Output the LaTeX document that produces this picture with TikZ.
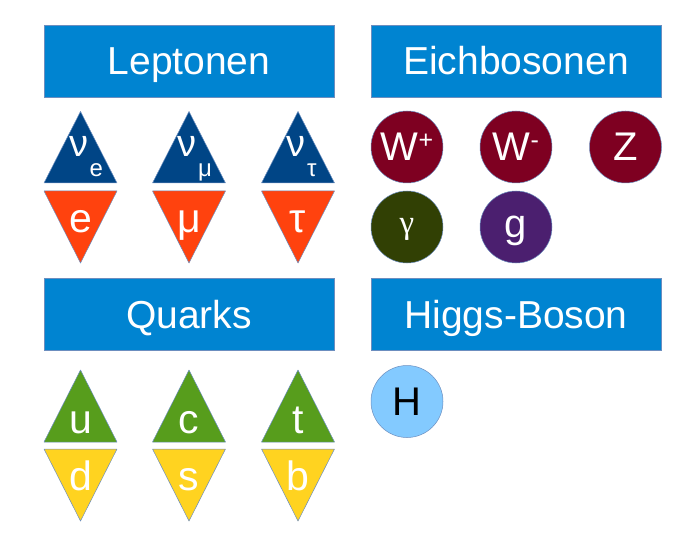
\documentclass[tikz,border=0pt]{standalone}
\usepackage{fontspec}
\setmainfont{Liberation Sans}
\newfontfamily\grserif{Liberation Serif}
\newcommand{\myfs}[1]{\fontsize{#1}{#1}\selectfont}
\definecolor{hdr}{HTML}{0084D1}
\definecolor{leptop}{HTML}{004586}
\definecolor{lepbot}{HTML}{FF420E}
\definecolor{qtop}{HTML}{579D1C}
\definecolor{qbot}{HTML}{FFD320}
\definecolor{wz}{HTML}{7E0021}
\definecolor{phot}{HTML}{314004}
\definecolor{glu}{HTML}{4B1F6F}
\definecolor{higgsc}{HTML}{83CAFF}
\definecolor{edgec}{HTML}{6C8EBF}
\tikzset{
  header/.style={rectangle, fill=hdr, draw=edgec, line width=0.5pt, minimum width=290pt, minimum height=72pt, inner sep=0pt, text=white, font=\myfs{39}, text height=28pt, text depth=0pt},
  boson/.style={circle, fill=#1, draw=edgec, line width=0.5pt, minimum size=72pt, inner sep=0pt, text=white, font=\myfs{40}, text height=28pt, text depth=0pt},
  tri/.style={fill=#1, draw=edgec, line width=0.5pt, line join=round},
  lbl/.style={text=white, inner sep=0pt, anchor=base, font=\myfs{41}},
  nulbl/.style={text=white, inner sep=0pt, anchor=base, font=\myfs{38}},
  sublbl/.style={text=white, inner sep=0pt, anchor=base west, font=\myfs{24}}
}
\begin{document}
\begin{tikzpicture}[x=1pt,y=-1pt]
\useasboundingbox (0,0) rectangle (700,553);
% headers
\node[header] (hlep) at (189,61) {Leptonen};
\node[header] (heich) at (516,61) {Eichbosonen};
\node[header] (hquark) at (189,314) {Quarks};
\node[header] (hhiggs) at (516,314) {Higgs-Boson};
% leptons
\foreach \cx/\nm/\sub/\low in {80.5/e/e/e, 189/mu/μ/μ, 298/tau/τ/τ}{
  \filldraw[tri=leptop] (\cx,111.5) -- (\cx+36.5,183) -- (\cx-36.5,183) -- cycle;
  \filldraw[tri=lepbot] (\cx-36.5,191) -- (\cx+36.5,191) -- (\cx,263) -- cycle;
  \node[nulbl] (nu\nm) at (\cx-2,157) {ν};
  \node[sublbl] (nus\nm) at (\cx+9,177) {\sub};
  \node[lbl] (l\nm) at (\cx,232) {\low};
}
% quarks
\foreach \cx/\up/\dn in {80.5/u/d, 189/c/s, 298/t/b}{
  \filldraw[tri=qtop] (\cx,370) -- (\cx+36.5,442) -- (\cx-36.5,442) -- cycle;
  \filldraw[tri=qbot] (\cx-36.5,449) -- (\cx+36.5,449) -- (\cx,521) -- cycle;
  \node[lbl] (q\up) at (\cx,433) {\up};
  \node[lbl] (q\dn) at (\cx,490) {\dn};
}
% gauge bosons
\node[boson=wz] (wplus) at (407,147) {W\raisebox{12pt}{\myfs{25}+}};
\node[boson=wz] (wminus) at (516,147) {W\raisebox{12pt}{\myfs{25}-}};
\node[boson=wz] (zb) at (625.5,147) {Z};
\node[boson=phot, font=\grserif\myfs{33}, text height=19pt, text depth=6pt] (gam) at (407,227) {γ};
\node[boson=glu, text height=26pt, text depth=6pt] (gluon) at (516,227) {g};
% higgs
\node[boson=higgsc, text=black] (higgs) at (407,401.5) {H};
\end{tikzpicture}
\end{document}
